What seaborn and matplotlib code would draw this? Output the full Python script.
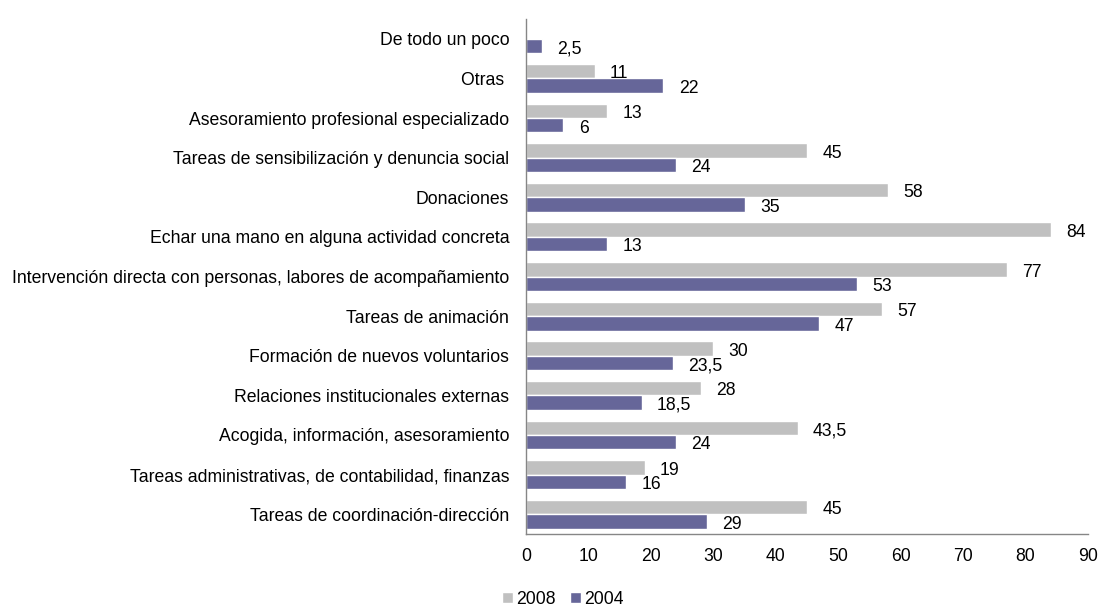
import numpy as np
import pandas as pd
import matplotlib
matplotlib.use("Agg")
import matplotlib.pyplot as plt
import seaborn as sns

categories = [
    "De todo un poco",
    "Otras ",
    "Asesoramiento profesional especializado",
    "Tareas de sensibilización y denuncia social",
    "Donaciones",
    "Echar una mano en alguna actividad concreta",
    "Intervención directa con personas, labores de acompañamiento",
    "Tareas de animación",
    "Formación de nuevos voluntarios",
    "Relaciones institucionales externas",
    "Acogida, información, asesoramiento",
    "Tareas administrativas, de contabilidad, finanzas",
    "Tareas de coordinación-dirección",
]
values_2008 = [np.nan, 11, 13, 45, 58, 84, 77, 57, 30, 28, 43.5, 19, 45]
values_2004 = [2.5, 22, 6, 24, 35, 13, 53, 47, 23.5, 18.5, 24, 16, 29]
series_names = ["2008", "2004"]
x_ticks = [0, 10, 20, 30, 40, 50, 60, 70, 80, 90]

colors = {"2008": "#C0C0C0", "2004": "#666699"}
axis_color = "#868686"

df = pd.DataFrame({
    "cat": categories * 2,
    "serie": ["2008"] * len(categories) + ["2004"] * len(categories),
    "val": values_2008 + values_2004,
})

sns.set_style("white")
plt.rcParams["font.family"] = ["Liberation Sans", "DejaVu Sans"]
plt.rcParams["text.color"] = "black"
plt.rcParams["xtick.labelcolor"] = "black"
plt.rcParams["ytick.labelcolor"] = "black"
FS = 12.7

fig = plt.figure(figsize=(10.99, 6.07), dpi=100)
ax = fig.add_axes([526 / 1099, 1 - 534 / 607, (1088 - 526) / 1099, (534 - 19) / 607])

sns.barplot(data=df, y="cat", x="val", hue="serie", hue_order=series_names,
            order=categories, orient="h", palette=colors, width=0.73,
            saturation=1, ax=ax, legend=True, errorbar=None)

ax.set_xlim(0, 90)
ax.set_ylim(len(categories) - 0.5, -0.5)
ax.set_xticks(x_ticks)
ax.set_xticklabels([str(t) for t in x_ticks], fontsize=FS, color="black")
ax.set_xlabel("")
ax.set_ylabel("")
ax.tick_params(axis="y", which="major", length=0, labelsize=FS, pad=12, labelcolor="black")
ax.set_yticks(np.arange(-0.5, len(categories), 1.0), minor=True)
ax.tick_params(axis="y", which="minor", length=5, direction="out", color=axis_color, width=1)
ax.tick_params(axis="x", which="major", length=5, direction="out", color=axis_color, width=1, pad=5)
for s in ["top", "right"]:
    ax.spines[s].set_visible(False)
for s in ["left", "bottom"]:
    ax.spines[s].set_color(axis_color)
    ax.spines[s].set_linewidth(1)
ax.grid(False)

def fmt(v):
    return ("%g" % v).replace(".", ",")

for cont in ax.containers:
    for bar in cont:
        v = bar.get_width()
        if v is None or np.isnan(v) or v == 0:
            continue
        yc = bar.get_y() + bar.get_height() / 2
        ax.annotate(fmt(v), xy=(v, yc), xytext=(11, -2),
                    textcoords="offset points", ha="left", va="center",
                    fontsize=FS, color="black", annotation_clip=False)

handles, labels = ax.get_legend_handles_labels()
ax.get_legend().remove()
leg = fig.legend(handles, labels, loc="center", bbox_to_anchor=(563 / 1099, 1 - 599 / 607),
                 ncol=2, frameon=False, fontsize=FS, handlelength=0.6, handleheight=0.6,
                 handletextpad=0.2, columnspacing=0.8)
for t in leg.get_texts():
    t.set_color("black")

fig.savefig("out.png", dpi=100)
